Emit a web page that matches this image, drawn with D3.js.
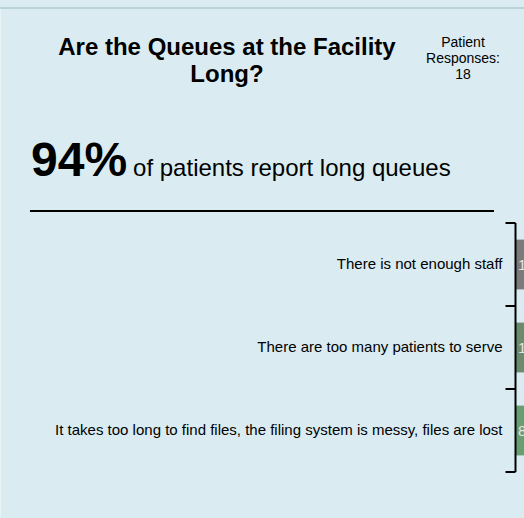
<!DOCTYPE html>
<html>
<head>
<meta charset="utf-8">
<script src="https://cdn.jsdelivr.net/npm/d3@7"></script>
<style>
  html, body { margin: 0; padding: 0; background: #daecf2; overflow: hidden; }
  svg { display: block; font-family: "Liberation Sans", Arial, sans-serif; }
</style>
</head>
<body>
<div id="chart"></div>
<script>
// Chart data
const title = ["Are the Queues at the Facility", "Long?"];
const responsesLabel = ["Patient", "Responses:", "18"];
const headlineValue = "94%";
const headlineText = "of patients report long queues";
const reasons = [
    "There is not enough staff",
    "There are too many patients to serve",
    "It takes too long to find files, the filing system is messy, files are lost"
];
const counts = [14, 12, 8];
const barColors = ["#7b7b7b", "#6b8b6f", "#679e72"];

const width = 524;
const height = 518;

const svg = d3.select('#chart')
    .append('svg')
    .attr('width', width)
    .attr('height', height);

// Panel frame lines
svg.append('rect')
    .attr('x', 0).attr('y', 7)
    .attr('width', width).attr('height', 2)
    .attr('fill', '#b9d3d8');
svg.append('rect')
    .attr('x', 0).attr('y', 9)
    .attr('width', 1).attr('height', height - 9)
    .attr('fill', '#e8f3f6');

// Title
svg.append('text')
    .attr('x', 227)
    .attr('y', 55)
    .attr('text-anchor', 'middle')
    .attr('font-size', 24)
    .attr('font-weight', 'bold')
    .selectAll('tspan')
    .data(title)
    .enter()
    .append('tspan')
    .attr('x', 227)
    .attr('dy', (d, i) => i === 0 ? 0 : 26.5)
    .text(d => d);

// Response count
svg.append('text')
    .attr('x', 463)
    .attr('y', 46.5)
    .attr('text-anchor', 'middle')
    .attr('font-size', 14)
    .selectAll('tspan')
    .data(responsesLabel)
    .enter()
    .append('tspan')
    .attr('x', 463)
    .attr('dy', (d, i) => i === 0 ? 0 : 16.3)
    .text(d => d);

// Headline
const headline = svg.append('text')
    .attr('x', 31)
    .attr('y', 176);
headline.append('tspan')
    .attr('font-size', 48)
    .attr('font-weight', 'bold')
    .text(headlineValue);
headline.append('tspan')
    .attr('font-size', 24)
    .attr('dx', 6)
    .text(headlineText);

svg.append('line')
    .attr('x1', 30).attr('x2', 494)
    .attr('y1', 211).attr('y2', 211)
    .attr('stroke', '#000')
    .attr('stroke-width', 2);

// Bars
const x0 = 516;
const x = d3.scaleLinear()
    .domain([0, 1])
    .range([x0, x0 + 30]);

const y = d3.scaleBand()
    .domain(reasons)
    .range([223, 472])
    .paddingInner(0.4)
    .paddingOuter(0.2);

svg.selectAll('.bar')
    .data(reasons)
    .enter()
    .append('rect')
    .attr('class', 'bar')
    .attr('x', x(0))
    .attr('y', d => y(d))
    .attr('width', (d, i) => x(counts[i]) - x(0))
    .attr('height', y.bandwidth())
    .attr('fill', (d, i) => barColors[i]);

svg.selectAll('.bar-label')
    .data(reasons)
    .enter()
    .append('text')
    .attr('class', 'bar-label')
    .attr('x', x(0) + 2)
    .attr('y', d => y(d) + y.bandwidth() / 2)
    .attr('dy', '0.35em')
    .attr('font-size', 15)
    .attr('fill', '#e6e6e6')
    .text((d, i) => counts[i]);

// Category axis
const axis = d3.axisLeft(y)
    .tickSize(0)
    .tickPadding(13);

const axisG = svg.append('g')
    .attr('transform', `translate(${x0 - 0.5},0)`)
    .call(axis);

axisG.select('.domain').remove();
axisG.selectAll('text')
    .attr('font-size', 15)
    .attr('fill', '#000')
    .attr('font-family', '"Liberation Sans", Arial, sans-serif');

// Bracket lines between categories
const step = y.step();
const boundaries = d3.range(reasons.length + 1).map(i => 223 + i * step);
axisG.append('line')
    .attr('x1', 0).attr('x2', 0)
    .attr('y1', boundaries[0]).attr('y2', boundaries[boundaries.length - 1])
    .attr('stroke', '#000')
    .attr('stroke-width', 2);
axisG.selectAll('.sep')
    .data(boundaries)
    .enter()
    .append('line')
    .attr('class', 'sep')
    .attr('x1', -10).attr('x2', 0)
    .attr('y1', d => d).attr('y2', d => d)
    .attr('stroke', '#000')
    .attr('stroke-width', 2);
</script>
</body>
</html>
